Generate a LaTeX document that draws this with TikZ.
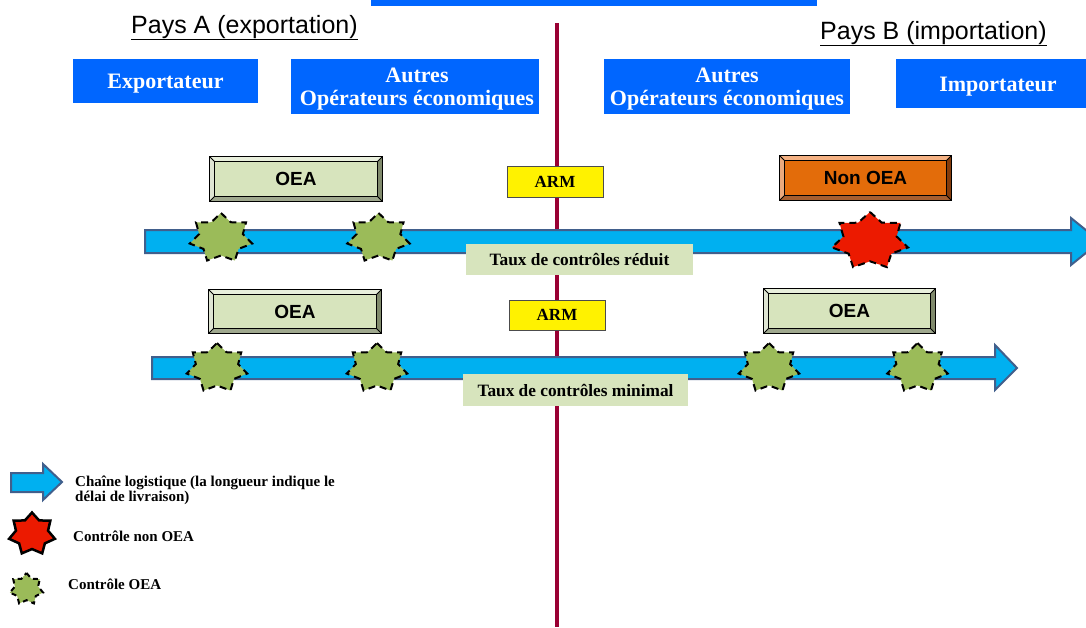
\documentclass[tikz,border=0pt]{standalone}
\usepackage{fontspec}
\setmainfont{Liberation Serif}
\setsansfont{Liberation Sans}
\usetikzlibrary{calc}
\definecolor{bluebox}{RGB}{0,102,255}
\definecolor{vline}{RGB}{153,0,51}
\definecolor{arrowfill}{RGB}{0,176,240}
\definecolor{arrowline}{RGB}{65,95,140}
\definecolor{oeafill}{RGB}{215,228,189}
\definecolor{oealight}{RGB}{232,239,220}
\definecolor{oeadark}{RGB}{128,138,108}
\definecolor{nonfill}{RGB}{227,108,10}
\definecolor{nonleft}{RGB}{244,177,131}
\definecolor{nondark}{RGB}{132,60,12}
\definecolor{greenstar}{RGB}{155,187,89}
\definecolor{redstar}{RGB}{236,26,0}
\definecolor{tauxfill}{RGB}{215,228,189}
\tikzset{
  bluelabel/.style={fill=bluebox, inner sep=0pt},
  bluetext/.style={text=white, inner sep=0pt, align=center,
    font=\fontsize{22}{23}\selectfont\bfseries},
  bevelbox/.style={draw=black, line width=1.2pt, inner sep=0pt},
  beveltext/.style={font=\fontsize{19}{21}\selectfont\sffamily\bfseries},
  armbox/.style={fill=yellow, draw=black!70, line width=0.8pt, inner sep=0pt,
    font=\fontsize{17}{19}\selectfont\bfseries},
  tauxbox/.style={fill=tauxfill, inner sep=0pt,
    font=\fontsize{17.3}{19}\selectfont\bfseries},
  chain/.style={fill=arrowfill, draw=arrowline, line width=2pt, line join=miter},
  oeastar/.style={fill=greenstar, draw=black, line width=2pt, dash pattern=on 7pt off 5pt},
  nonstar/.style={fill=redstar, draw=black, line width=2pt, dash pattern=on 7pt off 5pt},
  legendtext/.style={inner sep=0pt, align=left,
    font=\fontsize{15}{15}\selectfont\bfseries},
  title/.style={inner sep=0pt, font=\fontsize{25}{27}\selectfont\sffamily},
  pics/star7/.style n args={3}{code={
    \path[#3] (-90:#1 and #2)
      \foreach \k in {0,...,6}{
        -- ({-90+\k*360/7+360/14}:{0.7*#1} and {0.7*#2})
        -- ({-90+(\k+1)*360/7}:#1 and #2)} -- cycle;
  }},
}
\newcommand\bevelit[3]{%
  \fill[#2] (#1.north west) -- (#1.north east) -- ([shift={(-5,5)}]#1.north east) -- ([shift={(5,5)}]#1.north west) -- cycle;
  \fill[#2!80!black!20!#2] (#1.north west) -- (#1.south west) -- ([shift={(5,-5)}]#1.south west) -- ([shift={(5,5)}]#1.north west) -- cycle;
  \fill[#3] (#1.north east) -- (#1.south east) -- ([shift={(-5,-5)}]#1.south east) -- ([shift={(-5,5)}]#1.north east) -- cycle;
  \fill[#3!70!#2] (#1.south west) -- (#1.south east) -- ([shift={(-5,-5)}]#1.south east) -- ([shift={(5,-5)}]#1.south west) -- cycle;
  \draw[line width=1pt] ([shift={(5,5)}]#1.north west) rectangle ([shift={(-5,-5)}]#1.south east);
  \draw[line width=0.8pt] (#1.north west) -- ++(5,5) (#1.north east) -- ++(-5,5)
    (#1.south west) -- ++(5,-5) (#1.south east) -- ++(-5,-5);
  \draw[line width=1.5pt] (#1.north west) rectangle (#1.south east);
}
\begin{document}
\begin{tikzpicture}[x=1pt,y=-1pt]
\clip (0,0) rectangle (1086,627);
\fill[white] (0,0) rectangle (1086,627);

% top banner (cut off)
\fill[bluebox] (371,0) rectangle (817,6);

% border line between countries
\coordinate (vtop) at (556.5,23);
\coordinate (vbot) at (556.5,627);
\draw[vline, line width=4pt] (vtop) -- (vbot);

% titles
\node[title, anchor=base west] (paysA) at (131,33) {\underline{Pays A (exportation)}};
\node[title, anchor=base west] (paysB) at (820,39) {\underline{Pays B (importation)}};

% blue boxes
\node[bluelabel, minimum width=185, minimum height=44] (exp) at (165.5,81) {};
\node[bluetext] (expT) at ([shift={(0,3)}]exp.center) {Exportateur};
\node[bluelabel, minimum width=248, minimum height=55] (autA) at (415,86.5) {};
\node[bluetext] (autAT) at ([shift={(2,3)}]autA.center) {Autres\\Opérateurs économiques};
\node[bluelabel, minimum width=246, minimum height=55] (autB) at (727,86.5) {};
\node[bluetext] (autBT) at ([shift={(0,3)}]autB.center) {Autres\\Opérateurs économiques};
\node[bluelabel, minimum width=204, minimum height=49] (imp) at (998,83.5) {};
\node[bluetext] (impT) at ([shift={(0,3)}]imp.center) {Importateur};

% chain arrows
\draw[chain] (145,230) -- (1071,230) -- (1071,218) -- (1100,241.5) -- (1071,265) -- (1071,253) -- (145,253) -- cycle;
\draw[chain] (152,357) -- (995,357) -- (995,345) -- (1017,368) -- (995,390) -- (995,379) -- (152,379) -- cycle;

% row 1
\node[bevelbox, fill=oeafill, minimum width=172, minimum height=44] (oea1) at (296,179) {};
\bevelit{oea1}{oealight}{oeadark}
\node[beveltext] (oea1T) at (oea1) {OEA};
\node[bevelbox, fill=nonfill, minimum width=171, minimum height=44] (non1) at (865.5,178) {};
\bevelit{non1}{nonleft}{nondark}
\node[beveltext] (non1T) at (non1) {Non OEA};
\node[armbox, minimum width=96, minimum height=31] (arm1) at (555,181.5) {ARM};

\pic at (221,238) {star7={32}{25}{oeastar}};
\pic at (378.5,238) {star7={32}{25}{oeastar}};
\pic at (870,241) {star7={39}{29}{nonstar}};
\node[tauxbox, minimum width=227, minimum height=31] (taux1) at (579.5,259.5) {Taux de contrôles réduit};

% row 2
\node[bevelbox, fill=oeafill, minimum width=172, minimum height=43] (oea2) at (295,311.5) {};
\bevelit{oea2}{oealight}{oeadark}
\node[beveltext] (oea2T) at (oea2) {OEA};
\node[bevelbox, fill=oeafill, minimum width=171, minimum height=44] (oea3) at (849.5,311) {};
\bevelit{oea3}{oealight}{oeadark}
\node[beveltext] (oea3T) at (oea3) {OEA};
\node[armbox, minimum width=96, minimum height=30] (arm2) at (557,315) {ARM};

\pic at (217,368) {star7={31}{25}{oeastar}};
\pic at (377,368) {star7={31}{25}{oeastar}};
\pic at (769,368) {star7={31}{25}{oeastar}};
\pic at (917.5,368) {star7={31}{25}{oeastar}};
\node[tauxbox, minimum width=225, minimum height=32] (taux2) at (575.5,390) {Taux de contrôles minimal};

% legend
\draw[chain] (11,473) -- (43,473) -- (43,464) -- (62,482) -- (43,500) -- (43,492) -- (11,492) -- cycle;
\node[legendtext, anchor=west] (leg1) at (75,490) {Chaîne logistique (la longueur indique le\\délai de livraison)};
\pic at (32,534) {star7={23.5}{21.5}{fill=redstar, draw=black, line width=2.5pt, line join=miter}};
\node[legendtext, anchor=base west] (leg2) at (73,541) {Contrôle non OEA};
\pic at (26.5,589) {star7={17}{16}{oeastar, dash pattern=on 5pt off 4pt}};
\node[legendtext, anchor=base west] (leg3) at (68,589) {Contrôle OEA};
\end{tikzpicture}
\end{document}
